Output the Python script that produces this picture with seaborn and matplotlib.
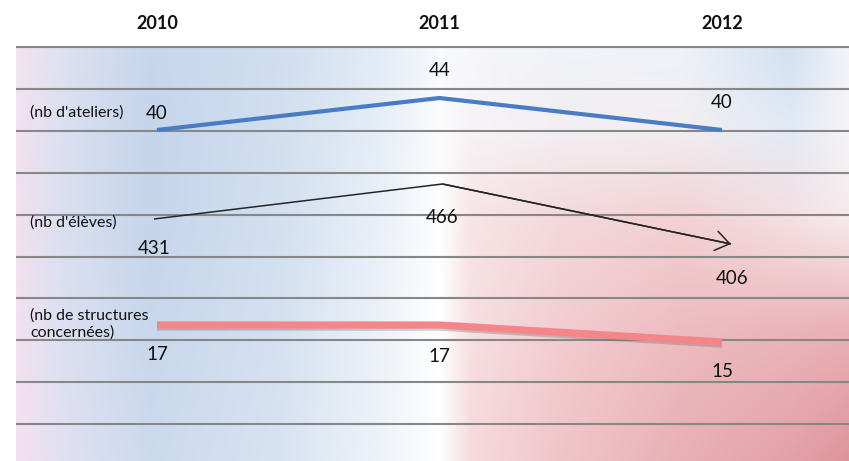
import numpy as np
import pandas as pd
import matplotlib
matplotlib.use("Agg")
import matplotlib.pyplot as plt
import matplotlib.colors as mcolors
import matplotlib.patheffects as pe
import seaborn as sns

# donnees
annees = [2010, 2011, 2012]
ateliers = [40, 44, 40]
eleves = [431, 466, 406]
structures = [17, 17, 15]
libelles = ["(nb d'ateliers)", "(nb d'élèves)", "(nb de structures\nconcernées)"]

sns.set_theme(style="white")
plt.rcParams['font.family'] = ['Lato', 'DejaVu Sans']

W, H = 849, 461
fig = plt.figure(figsize=(W / 100, H / 100), dpi=100)
fig.patch.set_facecolor("white")

# zone du graphique (pixels: x 16..849, y 46..461)
rect = [16 / W, 0, (W - 16) / W, (H - 46) / H]
ax = fig.add_axes(rect)
xlim = (2009.501, 2012.4496)
ylim = (-37 / 42, 9.03)

# fond en degrade rose / bleu / blanc / rouge
x_stops = [16, 60, 150, 280, 380, 440, 470, 560, 680, 790, 849]
y_stops = [46, 130, 220, 330, 461]
rangees = [
    ["#f2e4f1", "#dfe1f1", "#c7d6ec", "#d0def0", "#e3ebf6", "#f7f9fc", "#f6f7fa", "#eff3f8", "#eef2f8", "#d2e0f1", "#f4f4f8"],
    ["#f2e2f0", "#dce0f1", "#c5d5eb", "#d1dfef", "#e6eef7", "#fcfcfd", "#f7f3f6", "#f3eef2", "#f3eef1", "#e2eaf5", "#f6f4f7"],
    ["#f3e0ee", "#dbe0f1", "#c5d5eb", "#d3e0f0", "#eaf0f8", "#fefefe", "#f8e4e6", "#f4d8db", "#f2d0d3", "#f5dfe2", "#f6eaec"],
    ["#f3e0ef", "#dde0f1", "#c8d7ec", "#d5e1f1", "#edf2f8", "#ffffff", "#f7dfe2", "#f2ccd0", "#edbcc1", "#ebb5ba", "#eab0b5"],
    ["#f4e0f0", "#e1e1f2", "#ccdaee", "#d8e3f2", "#eef3f8", "#ffffff", "#f6dadd", "#f0c5c9", "#e9b0b5", "#e3a1a7", "#dd959b"],
]
xs = np.arange(16, W)
ys = np.arange(46, H)
R = np.array([[mcolors.to_rgb(c) for c in r] for r in rangees])
lignes = np.stack([np.stack([np.interp(xs, x_stops, R[i, :, k]) for k in range(3)], axis=-1)
                   for i in range(len(y_stops))])
pos = np.interp(ys, y_stops, np.arange(len(y_stops)))
i0 = np.clip(np.floor(pos).astype(int), 0, len(y_stops) - 2)
t = (pos - i0)[:, None, None]
img = lignes[i0] * (1 - t) + lignes[i0 + 1] * t
ax.imshow(img, extent=(xlim[0], xlim[1], ylim[0], ylim[1]), aspect='auto',
          interpolation='bilinear', zorder=0)

ax.set_xlim(*xlim)
ax.set_ylim(*ylim)
ax.set_yticks(range(10))
ax.set_yticklabels([])
ax.yaxis.grid(True, color="#878787", lw=1.5)
ax.xaxis.grid(False)
ax.set_axisbelow(False)
ax.set_xticks(annees)
ax.set_xticklabels([str(a) for a in annees], fontweight="bold", fontsize=13, color="#111111")
ax.xaxis.tick_top()
ax.tick_params(axis="both", length=0)
ax.tick_params(axis="x", pad=10)
for s in ax.spines.values():
    s.set_visible(False)


def serie(valeurs, yl, xl, couleur, lw, decalages, ombre=False):
    a = fig.add_axes(rect, label=str(valeurs))
    a.set_facecolor("none")
    df = pd.DataFrame({"annee": annees, "valeur": valeurs})
    sns.lineplot(data=df, x="annee", y="valeur", ax=a, color=couleur, lw=lw)
    ligne = a.get_lines()[-1]
    ligne.set_solid_capstyle("butt")
    if ombre:
        ligne.set_path_effects([pe.SimpleLineShadow(offset=(0, -1.5), shadow_color="#707070", alpha=0.35),
                                pe.Normal()])
    for x, v, d in zip(annees, valeurs, decalages):
        a.annotate(str(v), (x, v), xytext=d, textcoords="offset points",
                   ha="center", va="center", fontsize=13.5, color="#111111")
    a.set_xlim(*xl)
    a.set_ylim(*yl)
    a.axis("off")
    return a


serie(ateliers, (-1.375, 50.5), xlim, "#4a7cc3", 3.0,
      [(0, 12), (0, 19.5), (0, 19.5)])
ax_el = serie(eleves, (189, 604), (2009.5217, 2012.409), "#262626", 1.1,
              [(0, -21), (0, -24), (1, -24.5)])
ax_el.annotate("", xy=(annees[-1], eleves[-1]), xytext=(annees[-2], eleves[-2]),
               arrowprops=dict(arrowstyle="->,head_length=0.5,head_width=0.35", color="#262626",
                               lw=1.1, shrinkA=0, shrinkB=0, mutation_scale=20))
serie(structures, (1.0, 49.82), xlim, "#f4868a", 5.2,
      [(0, -21.5), (0, -23), (0, -21.5)], ombre=True)

# libelles des series
for txt, yc in zip(libelles, [113, 223, 324]):
    fig.text(30 / W, 1 - yc / H, txt, ha="left", va="center", fontsize=11.5,
             color="#111111", linespacing=1.3)

fig.savefig("out.png", dpi=100)
